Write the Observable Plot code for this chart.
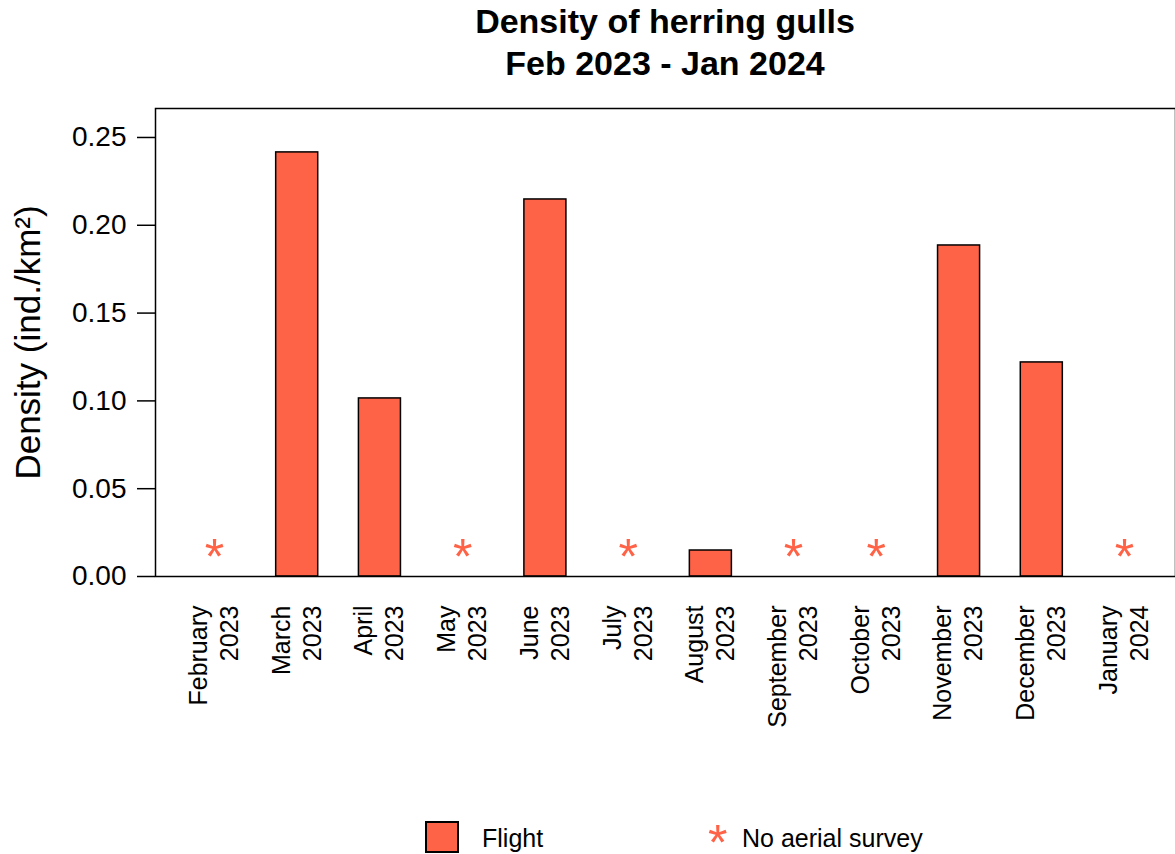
<!DOCTYPE html>
<html>
<head>
<meta charset="utf-8">
<script src="https://cdn.jsdelivr.net/npm/d3@7"></script>
<script src="https://cdn.jsdelivr.net/npm/@observablehq/plot@0.6"></script>
<style>
  html, body { margin: 0; padding: 0; background: white; overflow: hidden; }
  body { width: 1175px; height: 854px; font-family: "Liberation Sans", Arial, sans-serif; color: black; }
  #title { width: 1020px; padding-left: 155px; height: 84px; text-align: center; font-weight: bold; font-size: 34px; line-height: 42px; }
  #chart svg { display: block; }
  #legend { position: relative; height: 54px; font-size: 25px; }
  #legend > * { position: absolute; }
</style>
</head>
<body>
<div id="title">Density of herring gulls<br>Feb 2023 - Jan 2024</div>
<div id="chart"></div>
<div id="legend">
  <div style="left:425px; top:21px; width:30px; height:28px; background:#FF6347; border:2px solid black;"></div>
  <div style="left:482px; top:26px; line-height:25px;">Flight</div>
  <div style="left:708px; top:36px; font-size:50px; line-height:14px; height:14px; color:#FF6347;">*</div>
  <div style="left:742px; top:26px; line-height:25px;">No aerial survey</div>
</div>
<script>
// Data
const months = ["February","March","April","May","June","July","August","September","October","November","December","January"];
const years  = ["2023","2023","2023","2023","2023","2023","2023","2023","2023","2023","2023","2024"];
const density = [null, 0.2415, 0.1014, null, 0.2147, null, 0.0148, null, null, 0.1885, 0.1219, null];
const yTicks = [0, 0.05, 0.10, 0.15, 0.20, 0.25];
const yLabel = "Density (ind./km²)";

const table = months.map((m, i) => ({label: m + " " + years[i], month: m, year: years[i], value: density[i]}));
const flights = table.filter(d => d.value != null);
const noSurvey = table.filter(d => d.value == null);
const tomato = "#FF6347";

const chart = Plot.plot({
  width: 1175,
  height: 716,
  marginLeft: 155,
  marginRight: 0,
  marginTop: 24,
  marginBottom: 224,
  style: {fontFamily: "'Liberation Sans', Arial, sans-serif", color: "black", background: "white"},
  x: {type: "band", domain: table.map(d => d.label), range: [172.6, 1165.4], paddingInner: 0.492, paddingOuter: 0.246, round: false, axis: null},
  y: {domain: [0, 0.2665], axis: null},
  marks: [
    Plot.barY(flights, {x: "label", y: "value", fill: tomato, stroke: "black", strokeWidth: 1.5}),
    Plot.text(noSurvey, {x: "label", y: () => 0, text: () => "*", fill: tomato, fontSize: 50, lineAnchor: "bottom", dy: -3}),
    Plot.axisY({ticks: yTicks, tickSize: 18, tickPadding: 11, tickFormat: d => d.toFixed(2), fontSize: 28, label: null, strokeWidth: 1.5}),
    Plot.text(table, {x: "label", text: d => d.month + "\n" + d.year, frameAnchor: "bottom", rotate: -90, textAnchor: "end", lineAnchor: "middle", lineHeight: 1.24, fontSize: 25, dy: 29, dx: -2}),
    Plot.text([yLabel], {frameAnchor: "left", rotate: -90, textAnchor: "middle", text: d => d, fontSize: 35, dx: -127}),
    Plot.frame({stroke: "black", strokeWidth: 1.5})
  ]
});
document.getElementById("chart").appendChild(chart);
</script>
</body>
</html>
